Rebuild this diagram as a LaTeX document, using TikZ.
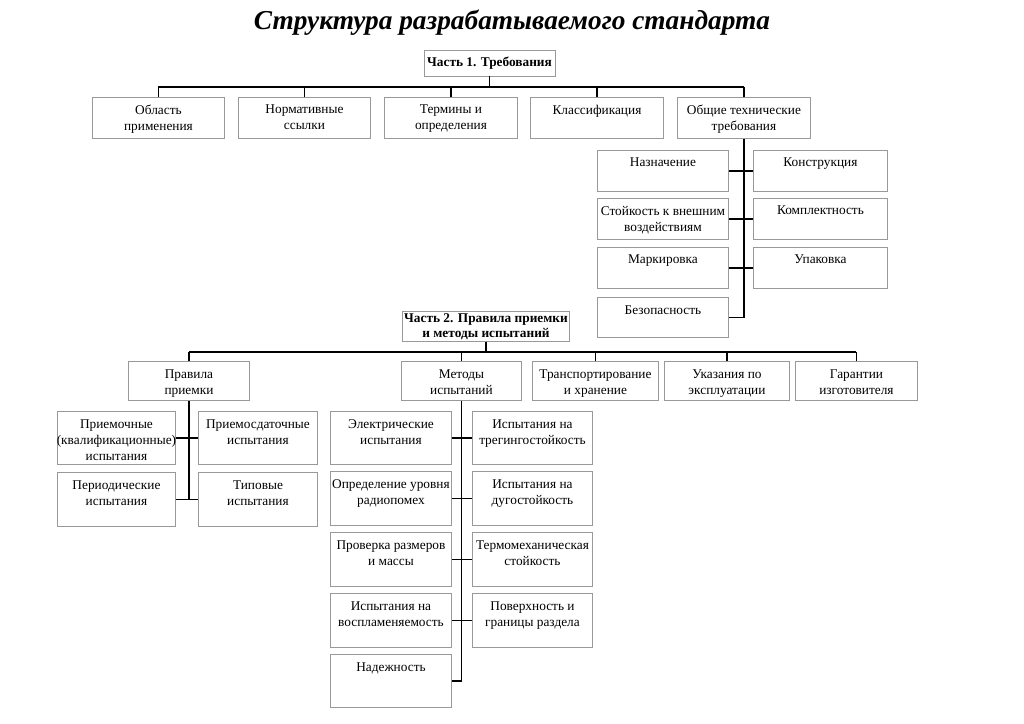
\documentclass[tikz,border=0pt]{standalone}
\usepackage{fontspec}
\setmainfont{Liberation Serif}
\begin{document}
\begin{tikzpicture}[x=0.75pt,y=-0.75pt,
  box/.style={draw=black!40,line width=0.7pt,inner sep=0pt,fill=white},
  txt/.style={inner sep=0pt,align=center,font=\fontsize{10}{12}\selectfont},
  head/.style={draw=black!40,line width=0.7pt,inner sep=1pt,align=center,font=\fontsize{10}{11.5}\selectfont\bfseries},
  conn/.style={draw=black,line width=1.1pt}]
\useasboundingbox (0,0) rectangle (1024,724);
\newcommand\bx[6]{%
  \node[box,minimum width={(#4-#2)*0.75pt},minimum height={(#5-#3)*0.75pt},anchor=north west] (#1) at (#2,#3) {};
  \node[txt,anchor=north] (#1t) at ([yshift=-6pt]#1.north) {#6};}
% title
\node[font=\fontsize{20.5}{24}\selectfont\bfseries\itshape] (title) at (512,23) {Структура разрабатываемого стандарта};
% Part 1
\node[head,minimum width={131*0.75pt},minimum height={26*0.75pt}] (p1) at (489.5,63) {Часть 1. Требования};
\bx{a1}{92}{97}{224}{138}{Область\\применения}
\bx{a2}{238}{97}{370}{138}{Нормативные\\ссылки}
\bx{a3}{384}{97}{517}{138}{Термины и\\определения}
\bx{a4}{530}{97}{663}{138}{Классификация}
\bx{a5}{677}{97}{810}{138}{Общие технические\\требования}
\bx{g1}{597}{150}{728}{191}{Назначение}
\bx{g2}{753}{150}{887}{191}{Конструкция}
\bx{g3}{597}{198}{728}{239}{Стойкость к внешним\\воздействиям}
\bx{g4}{753}{198}{887}{239}{Комплектность}
\bx{g5}{597}{247}{728}{288}{Маркировка}
\bx{g6}{753}{247}{887}{288}{Упаковка}
\bx{g7}{597}{297}{728}{337}{Безопасность}
% Part 2
\node[head,minimum width={162*0.75pt},minimum height={29*0.75pt}] (p2) at (486,326.5) {Часть 2. Правила приемки\\и методы испытаний};
\bx{b1}{128}{361}{249}{400}{Правила\\приемки}
\bx{b2}{401}{361}{521}{400}{Методы\\испытаний}
\bx{b3}{532}{361}{658}{400}{Транспортирование\\и хранение}
\bx{b4}{664}{361}{789}{400}{Указания по\\эксплуатации}
\bx{b5}{795}{361}{917}{400}{Гарантии\\изготовителя}
\bx{c1}{57}{411}{175}{464}{Приемочные\\(квалификационные)\\испытания}
\bx{c2}{198}{411}{317}{464}{Приемосдаточные\\испытания}
\bx{c3}{57}{472}{175}{526}{Периодические\\испытания}
\bx{c4}{198}{472}{317}{526}{Типовые\\испытания}
\bx{m1}{330}{411}{451}{464}{Электрические\\испытания}
\bx{m2}{472}{411}{592}{464}{Испытания на\\трегингостойкость}
\bx{m3}{330}{471}{451}{525}{Определение уровня\\радиопомех}
\bx{m4}{472}{471}{592}{525}{Испытания на\\дугостойкость}
\bx{m5}{330}{532}{451}{586}{Проверка размеров\\и массы}
\bx{m6}{472}{532}{592}{586}{Термомеханическая\\стойкость}
\bx{m7}{330}{593}{451}{647}{Испытания на\\воспламеняемость}
\bx{m8}{472}{593}{592}{647}{Поверхность и\\границы раздела}
\bx{m9}{330}{654}{451}{707}{Надежность}
% connectors part 1
\coordinate (bus1) at (0,87);
\draw[conn] (p1.south) -- (p1.south |- bus1);
\draw[conn] (a1.north |- bus1) -- (a5.north |- bus1);
\foreach \n in {a1,a2,a3,a4,a5} \draw[conn] (\n.north) -- (\n.north |- bus1);
\draw[conn] (a5.south) -- (a5.south |- g7.east) -- (g7.east);
\draw[conn] (g1.east) -- (g2.west);
\draw[conn] (g3.east) -- (g4.west);
\draw[conn] (g5.east) -- (g6.west);
% connectors part 2
\coordinate (bus2) at (0,352);
\draw[conn] (p2.south) -- (p2.south |- bus2);
\draw[conn] (b1.north |- bus2) -- (b5.north |- bus2);
\foreach \n in {b1,b2,b3,b4,b5} \draw[conn] (\n.north) -- (\n.north |- bus2);
\draw[conn] (b1.south) -- (b1.south |- c3.east);
\draw[conn] (c1.east) -- (c2.west);
\draw[conn] (c3.east) -- (c4.west);
\draw[conn] (b2.south) -- (b2.south |- m9.east) -- (m9.east);
\draw[conn] (m1.east) -- (m2.west);
\draw[conn] (m3.east) -- (m4.west);
\draw[conn] (m5.east) -- (m6.west);
\draw[conn] (m7.east) -- (m8.west);
\end{tikzpicture}
\end{document}
